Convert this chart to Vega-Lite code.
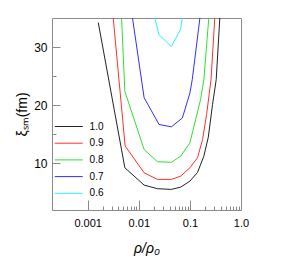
{
  "$schema": "https://vega.github.io/schema/vega-lite/v6.json",
  "width": 189,
  "height": 192,
  "autosize": {"type": "none"},
  "padding": {"left": 52, "top": 18, "right": 46, "bottom": 61},
  "background": "white",
  "data": {"values": [
    {"r": "1.0", "i": 1, "x": 0.00161, "y": 34.2},
    {"r": "1.0", "i": 2, "x": 0.00533, "y": 9.26},
    {"r": "1.0", "i": 3, "x": 0.0127, "y": 6.28},
    {"r": "1.0", "i": 4, "x": 0.0232, "y": 5.66},
    {"r": "1.0", "i": 5, "x": 0.0434, "y": 5.54},
    {"r": "1.0", "i": 6, "x": 0.066, "y": 5.93},
    {"r": "1.0", "i": 7, "x": 0.1, "y": 6.96},
    {"r": "1.0", "i": 8, "x": 0.141, "y": 8.46},
    {"r": "1.0", "i": 9, "x": 0.1875, "y": 11.25},
    {"r": "1.0", "i": 10, "x": 0.229, "y": 14.5},
    {"r": "1.0", "i": 11, "x": 0.277, "y": 20.1},
    {"r": "1.0", "i": 12, "x": 0.327, "y": 24.4},
    {"r": "1.0", "i": 13, "x": 0.385, "y": 35},
    {"r": "0.9", "i": 1, "x": 0.00316, "y": 35},
    {"r": "0.9", "i": 2, "x": 0.0054, "y": 13.0},
    {"r": "0.9", "i": 3, "x": 0.0127, "y": 8.4},
    {"r": "0.9", "i": 4, "x": 0.0232, "y": 7.26},
    {"r": "0.9", "i": 5, "x": 0.0434, "y": 7.26},
    {"r": "0.9", "i": 6, "x": 0.066, "y": 7.82},
    {"r": "0.9", "i": 7, "x": 0.1, "y": 9.26},
    {"r": "0.9", "i": 8, "x": 0.141, "y": 11.0},
    {"r": "0.9", "i": 9, "x": 0.177, "y": 14.1},
    {"r": "0.9", "i": 10, "x": 0.212, "y": 18.4},
    {"r": "0.9", "i": 11, "x": 0.259, "y": 24.4},
    {"r": "0.9", "i": 12, "x": 0.307, "y": 35},
    {"r": "0.8", "i": 1, "x": 0.0046, "y": 35},
    {"r": "0.8", "i": 2, "x": 0.00533, "y": 22.4},
    {"r": "0.8", "i": 3, "x": 0.0127, "y": 12.4},
    {"r": "0.8", "i": 4, "x": 0.0232, "y": 10.3},
    {"r": "0.8", "i": 5, "x": 0.0434, "y": 10.2},
    {"r": "0.8", "i": 6, "x": 0.066, "y": 11.25},
    {"r": "0.8", "i": 7, "x": 0.1, "y": 13.55},
    {"r": "0.8", "i": 8, "x": 0.129, "y": 17.5},
    {"r": "0.8", "i": 9, "x": 0.162, "y": 21.0},
    {"r": "0.8", "i": 10, "x": 0.1875, "y": 24.4},
    {"r": "0.8", "i": 11, "x": 0.234, "y": 35},
    {"r": "0.7", "i": 1, "x": 0.00753, "y": 35},
    {"r": "0.7", "i": 2, "x": 0.0127, "y": 21.3},
    {"r": "0.7", "i": 3, "x": 0.0249, "y": 16.7},
    {"r": "0.7", "i": 4, "x": 0.0434, "y": 16.3},
    {"r": "0.7", "i": 5, "x": 0.0711, "y": 17.8},
    {"r": "0.7", "i": 6, "x": 0.1, "y": 22.1},
    {"r": "0.7", "i": 7, "x": 0.111, "y": 24.4},
    {"r": "0.7", "i": 8, "x": 0.157, "y": 35},
    {"r": "0.6", "i": 1, "x": 0.0205, "y": 35},
    {"r": "0.6", "i": 2, "x": 0.0249, "y": 32.1},
    {"r": "0.6", "i": 3, "x": 0.0434, "y": 30.1},
    {"r": "0.6", "i": 4, "x": 0.066, "y": 33.1},
    {"r": "0.6", "i": 5, "x": 0.0711, "y": 35}
  ]},
  "layer": [
    {
      "mark": {"type": "line", "strokeWidth": 1, "clip": true},
      "encoding": {
        "x": {
          "field": "x", "type": "quantitative",
          "scale": {"type": "log", "domain": [0.0002, 1], "nice": false},
          "axis": {
            "orient": "bottom",
            "values": [0.001, 0.01, 0.1, 1],
            "labelExpr": "datum.value >= 1 ? '1.0' : toString(datum.value)",
            "offset": -10,
            "tickSize": 10,
            "labelPadding": 7,
            "labelFontSize": 11,
            "labelFlush": false,
            "labelOverlap": false,
            "title": "ρ/ρ₀",
            "titleFontStyle": "italic",
            "titleFontSize": 14,
            "titlePadding": 13
          }
        },
        "y": {
          "field": "y", "type": "quantitative",
          "scale": {"domain": [2, 35], "nice": false, "zero": false},
          "axis": {
            "orient": "left",
            "values": [10, 20, 30],
            "offset": -8,
            "tickSize": 8,
            "labelPadding": 5,
            "labelFontSize": 12,
            "title": "ξₛₘ(fm)",
            "titleFontSize": 14,
            "titlePadding": 4
          }
        },
        "color": {
          "field": "r", "type": "nominal",
          "scale": {"domain": ["1.0", "0.9", "0.8", "0.7", "0.6"], "range": ["#222222", "#ff3030", "#30e030", "#3030ff", "#30f0f0"]},
          "legend": {
            "title": null,
            "orient": "none",
            "legendX": 11.3,
            "legendY": 103,
            "symbolType": "M-3,0H3",
            "symbolSize": 87,
            "symbolStrokeWidth": 1,
            "labelOffset": 15.3,
            "labelFontSize": 10,
            "rowPadding": 5.7,
            "padding": 0
          }
        },
        "order": {"field": "i", "type": "quantitative"}
      }
    },
    {
      "mark": {"type": "point", "opacity": 0},
      "encoding": {
        "x": {
          "field": "x", "type": "quantitative",
          "axis": {
            "orient": "bottom",
            "values": [0.002, 0.003, 0.004, 0.005, 0.006, 0.007, 0.008, 0.009, 0.02, 0.03, 0.04, 0.05, 0.06, 0.07, 0.08, 0.09, 0.2, 0.3, 0.4, 0.5, 0.6, 0.7, 0.8, 0.9],
            "offset": -4,
            "tickSize": 4,
            "labels": false,
            "title": null
          }
        },
        "y": {
          "field": "y", "type": "quantitative",
          "axis": {
            "orient": "left",
            "values": [15, 25],
            "offset": -4,
            "tickSize": 4,
            "labels": false,
            "title": null
          }
        }
      }
    }
  ],
  "resolve": {"axis": {"x": "independent", "y": "independent"}},
  "config": {
    "font": "Liberation Sans",
    "view": {"stroke": "#8a8a8a", "strokeWidth": 1},
    "axis": {
      "domain": false,
      "grid": false,
      "tickColor": "#8a8a8a",
      "tickWidth": 1,
      "labelColor": "#000000",
      "titleColor": "#000000",
      "labelFont": "Liberation Sans",
      "titleFont": "Liberation Sans",
      "titleFontWeight": "normal"
    },
    "legend": {"labelFont": "Liberation Sans", "labelColor": "#000000"}
  }
}
